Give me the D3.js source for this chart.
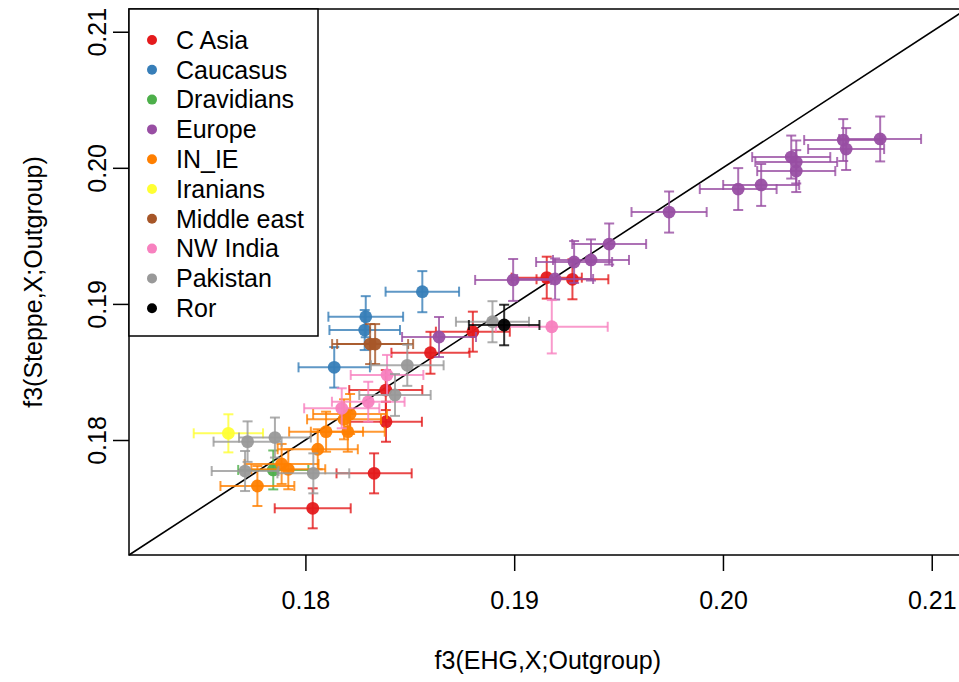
<!DOCTYPE html>
<html>
<head>
<meta charset="utf-8">
<script src="https://cdn.jsdelivr.net/npm/d3@7"></script>
<style>
  body { margin: 0; background: #fff; }
  text { font-family: "Liberation Sans", Arial, Helvetica, sans-serif; fill: #000; }
</style>
</head>
<body>
<svg id="chart" width="959" height="682"></svg>
<script>
// Population groups and their colours (ColorBrewer Set1 + black)
const groups = ["C Asia", "Caucasus", "Dravidians", "Europe", "IN_IE",
                "Iranians", "Middle east", "NW India", "Pakistan", "Ror"];
const groupColors = ["#E41A1C", "#377EB8", "#4DAF4A", "#984EA3", "#FF7F00",
                     "#FFFF33", "#A65628", "#F781BF", "#999999", "#000000"];

// One entry per population: group index, f3 estimates and standard errors
const popGroup = [
  0, 0, 0, 0, 0, 0, 0, 0,
  1, 1, 1, 1,
  2,
  3, 3, 3, 3, 3, 3, 3, 3, 3, 3, 3, 3, 3, 3, 3,
  4, 4, 4, 4, 4, 4, 4, 4,
  5,
  6, 6,
  7, 7, 7, 7,
  8, 8, 8, 8, 8, 8, 8,
  9
];
const ehgF3 = [
  0.18035, 0.18329, 0.18386, 0.18385, 0.18599, 0.18802, 0.19156, 0.19279,
  0.18560, 0.18289, 0.18284, 0.18138,
  0.17846,
  0.18640, 0.18995, 0.19196, 0.19287, 0.19368, 0.19455, 0.19742, 0.20073,
  0.20183, 0.20327, 0.20351, 0.20351, 0.20576, 0.20590, 0.20753,
  0.18214, 0.18185, 0.18099, 0.18203, 0.18059, 0.17886, 0.17918, 0.17770,
  0.17631,
  0.18310, 0.18334,
  0.18391, 0.18301, 0.18174, 0.19180,
  0.18896, 0.18488, 0.18429, 0.17854, 0.17723, 0.17711, 0.18038,
  0.18952
];
const steppeF3 = [
  0.17498, 0.17755, 0.18134, 0.18367, 0.18641, 0.18796, 0.19193, 0.19181,
  0.19090, 0.18906, 0.18808, 0.18534,
  0.17780,
  0.18757, 0.19176, 0.19183, 0.19308, 0.19323, 0.19440, 0.19675, 0.19844,
  0.19874, 0.20079, 0.20043, 0.19976, 0.20204, 0.20138, 0.20212,
  0.18191, 0.18152, 0.18061, 0.18061, 0.17932, 0.17824, 0.17785, 0.17662,
  0.18049,
  0.18705, 0.18705,
  0.18478, 0.18281, 0.18233, 0.18832,
  0.18869, 0.18549, 0.18331, 0.18018, 0.17988, 0.17772, 0.17755,
  0.18845
];
const ehgSE = [
  0.00182, 0.00180, 0.00172, 0.00175, 0.00187, 0.00177, 0.00168, 0.00172,
  0.00176, 0.00179, 0.00169, 0.00171,
  0.00168,
  0.00177, 0.00182, 0.00182, 0.00182, 0.00182, 0.00177, 0.00180, 0.00184,
  0.00182, 0.00187, 0.00196, 0.00187, 0.00187, 0.00182, 0.00196,
  0.00177, 0.00177, 0.00177, 0.00177, 0.00192, 0.00177, 0.00177, 0.00177,
  0.00166,
  0.00182, 0.00182,
  0.00174, 0.00174, 0.00180, 0.00268,
  0.00175, 0.00174, 0.00171, 0.00172, 0.00163, 0.00160, 0.00172,
  0.00169
];
const steppeSE = [
  0.00147, 0.00147, 0.00147, 0.00147, 0.00154, 0.00147, 0.00154, 0.00147,
  0.00151, 0.00151, 0.00147, 0.00149,
  0.00143,
  0.00147, 0.00154, 0.00151, 0.00154, 0.00151, 0.00151, 0.00151, 0.00154,
  0.00154, 0.00158, 0.00158, 0.00154, 0.00154, 0.00154, 0.00165,
  0.00147, 0.00147, 0.00147, 0.00147, 0.00147, 0.00147, 0.00147, 0.00147,
  0.00140,
  0.00147, 0.00147,
  0.00147, 0.00147, 0.00147, 0.00196,
  0.00151, 0.00151, 0.00154, 0.00147, 0.00149, 0.00147, 0.00147,
  0.00149
];

const axisTicks = [0.18, 0.19, 0.20, 0.21];
const axisLimits = [0.17155, 0.21167];
const xTitle = "f3(EHG,X;Outgroup)";
const yTitle = "f3(Steppe,X;Outgroup)";

// Plot region
const plot = { left: 129, top: 9, right: 966.6, bottom: 555 };
const svg = d3.select("#chart");
const x = d3.scaleLinear().domain(axisLimits).range([plot.left, plot.right]);
const y = d3.scaleLinear().domain(axisLimits).range([plot.bottom, plot.top]);

const fontSize = 25;
const capLen = 5;

// Identity line y = x
svg.append("line")
  .attr("x1", x(axisLimits[0])).attr("y1", y(axisLimits[0]))
  .attr("x2", x(axisLimits[1])).attr("y2", y(axisLimits[1]))
  .attr("stroke", "#000").attr("stroke-width", 1.6);

// Error bars and points, drawn group by group
const rows = popGroup.map((g, i) => ({
  g, x: ehgF3[i], y: steppeF3[i], xe: ehgSE[i], ye: steppeSE[i]
}));
const marks = svg.append("g");
groups.forEach((name, gi) => {
  const col = groupColors[gi];
  rows.filter(r => r.g === gi).forEach(r => {
    const cx = x(r.x), cy = y(r.y);
    const x0 = x(r.x - r.xe), x1 = x(r.x + r.xe);
    const y0 = y(r.y - r.ye), y1 = y(r.y + r.ye);
    const bars = marks.append("g")
      .attr("stroke", col).attr("stroke-width", 2).attr("stroke-opacity", 0.8)
      .attr("fill", "none");
    bars.append("line").attr("x1", x0).attr("x2", x1).attr("y1", cy).attr("y2", cy);
    bars.append("line").attr("x1", x0).attr("x2", x0).attr("y1", cy - capLen).attr("y2", cy + capLen);
    bars.append("line").attr("x1", x1).attr("x2", x1).attr("y1", cy - capLen).attr("y2", cy + capLen);
    bars.append("line").attr("x1", cx).attr("x2", cx).attr("y1", y0).attr("y2", y1);
    bars.append("line").attr("x1", cx - capLen).attr("x2", cx + capLen).attr("y1", y0).attr("y2", y0);
    bars.append("line").attr("x1", cx - capLen).attr("x2", cx + capLen).attr("y1", y1).attr("y2", y1);
    marks.append("circle").attr("cx", cx).attr("cy", cy).attr("r", 6.4)
      .attr("fill", col).attr("fill-opacity", 0.95);
  });
});

// Plot frame
svg.append("rect")
  .attr("x", plot.left).attr("y", plot.top)
  .attr("width", plot.right - plot.left).attr("height", plot.bottom - plot.top)
  .attr("fill", "none").attr("stroke", "#000").attr("stroke-width", 1.5);

// Axes
const xAxis = svg.append("g")
  .attr("transform", `translate(0,${plot.bottom})`)
  .call(d3.axisBottom(x).tickValues(axisTicks).tickFormat(d3.format(".2f"))
        .tickSize(16).tickPadding(20));
const yAxis = svg.append("g")
  .attr("transform", `translate(${plot.left},0)`)
  .call(d3.axisLeft(y).tickValues(axisTicks).tickFormat(d3.format(".2f"))
        .tickSize(16));
[xAxis, yAxis].forEach(a => {
  a.select(".domain").remove();
  a.selectAll(".tick line").attr("stroke", "#000").attr("stroke-width", 1.5);
  a.selectAll(".tick text").attr("font-size", fontSize)
    .style("font-family", '"Liberation Sans", Arial, sans-serif').attr("fill", "#000");
});
yAxis.selectAll(".tick text")
  .attr("x", null).attr("dy", null)
  .attr("text-anchor", "middle")
  .attr("transform", "translate(-23,0) rotate(-90)");

// Axis titles
svg.append("text")
  .attr("x", (plot.left + plot.right) / 2).attr("y", 669)
  .attr("text-anchor", "middle").attr("font-size", fontSize).text(xTitle);
svg.append("text")
  .attr("transform", `translate(42,${(plot.top + plot.bottom) / 2}) rotate(-90)`)
  .attr("text-anchor", "middle").attr("font-size", fontSize).text(yTitle);

// Legend
const legend = svg.append("g");
legend.append("rect")
  .attr("x", plot.left).attr("y", plot.top)
  .attr("width", 318 - plot.left).attr("height", 336 - plot.top)
  .attr("fill", "#fff").attr("stroke", "#000").attr("stroke-width", 1.5);
groups.forEach((name, i) => {
  const ly = 40 + i * 29.8;
  legend.append("circle").attr("cx", 152).attr("cy", ly).attr("r", 5)
    .attr("fill", groupColors[i]);
  legend.append("text").attr("x", 176).attr("y", ly)
    .attr("dy", "0.35em").attr("font-size", fontSize).text(name);
});
</script>
</body>
</html>
